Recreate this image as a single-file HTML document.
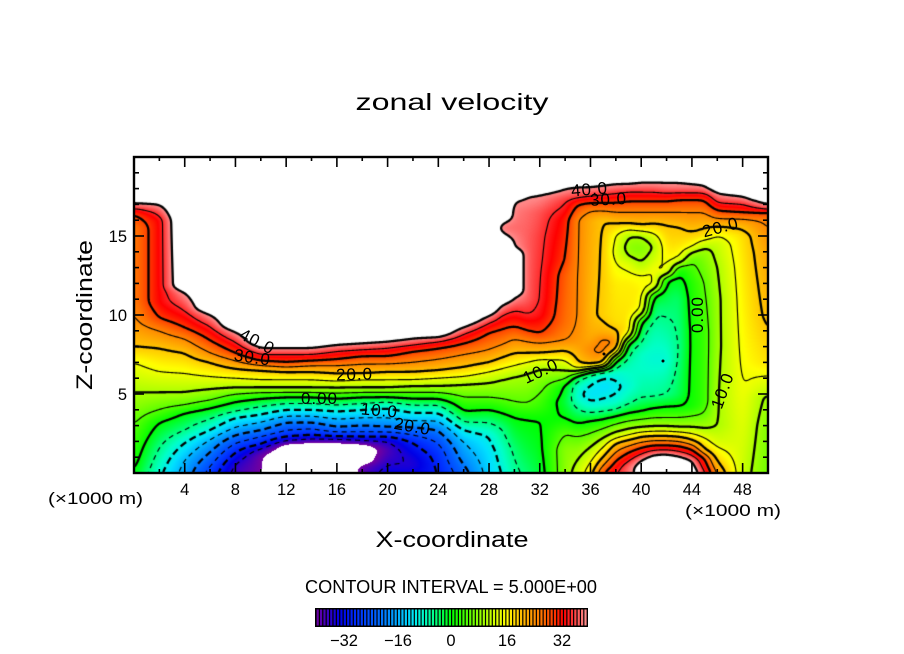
<!DOCTYPE html>
<html>
<head>
<meta charset="utf-8">
<style>
html,body{margin:0;padding:0;background:#fff;}
#wrap{position:relative;width:904px;height:654px;overflow:hidden;background:#fff;}
#c{position:absolute;left:134px;top:157px;}
#s{position:absolute;left:0;top:0;}
</style>
</head>
<body>
<div id="wrap">
<canvas id="c" width="634" height="316"></canvas>
<svg id="s" width="904" height="654" xmlns="http://www.w3.org/2000/svg" font-family="Liberation Sans, sans-serif" fill="#000">
  <g id="ticks" stroke="#000" stroke-width="1.6"></g>
  <rect x="134" y="157" width="634" height="316" fill="none" stroke="#000" stroke-width="2.4"/>
  <text x="452" y="110" font-size="23" text-anchor="middle" textLength="193" lengthAdjust="spacingAndGlyphs">zonal velocity</text>
  <g font-size="16.5" text-anchor="middle">
    <text x="184.7" y="495">4</text>
    <text x="235.4" y="495">8</text>
    <text x="286.2" y="495">12</text>
    <text x="336.9" y="495">16</text>
    <text x="387.6" y="495">20</text>
    <text x="438.3" y="495">24</text>
    <text x="489.0" y="495">28</text>
    <text x="539.8" y="495">32</text>
    <text x="590.5" y="495">36</text>
    <text x="641.2" y="495">40</text>
    <text x="691.9" y="495">44</text>
    <text x="742.6" y="495">48</text>
  </g>
  <g font-size="16.5" text-anchor="end">
    <text x="127" y="242">15</text>
    <text x="127" y="321">10</text>
    <text x="127" y="400">5</text>
  </g>
  <text x="48" y="504" font-size="16.5" textLength="95" lengthAdjust="spacingAndGlyphs">(×1000 m)</text>
  <text x="685" y="516" font-size="16.5" textLength="96" lengthAdjust="spacingAndGlyphs">(×1000 m)</text>
  <text x="452" y="547" font-size="22" text-anchor="middle" textLength="153" lengthAdjust="spacingAndGlyphs">X-coordinate</text>
  <text transform="translate(92,315) rotate(-90)" font-size="22" text-anchor="middle" textLength="150" lengthAdjust="spacingAndGlyphs">Z-coordinate</text>
  <text x="451" y="593" font-size="18" text-anchor="middle" textLength="292" lengthAdjust="spacingAndGlyphs">CONTOUR INTERVAL = 5.000E+00</text>
  <rect x="315" y="608" width="273" height="19" fill="#000"/>
  <g id="cbar"></g>
  <g font-size="16.5" text-anchor="middle">
    <text x="344" y="646">−32</text>
    <text x="398" y="646">−16</text>
    <text x="451" y="646">0</text>
    <text x="507" y="646">16</text>
    <text x="562" y="646">32</text>
  </g>
  <g font-size="17" text-anchor="middle">
    <text transform="translate(257,341) rotate(27)" dy="6" textLength="36">40.0</text>
    <text transform="translate(252,357) rotate(8)" dy="6" textLength="36">30.0</text>
    <text transform="translate(354,374) rotate(-2)" dy="6" textLength="36">20.0</text>
    <text transform="translate(319,398)" dy="6" textLength="36">0.00</text>
    <text transform="translate(379,410) rotate(5)" dy="6" textLength="36">10.0</text>
    <text transform="translate(412,426) rotate(10)" dy="6" textLength="36">20.0</text>
    <text transform="translate(589,189) rotate(-5)" dy="6" textLength="36">40.0</text>
    <text transform="translate(608,199) rotate(-3)" dy="6" textLength="36">30.0</text>
    <text transform="translate(720,227) rotate(-15)" dy="6" textLength="36">20.0</text>
    <text transform="translate(540,371) rotate(-25)" dy="6" textLength="36">10.0</text>
    <text transform="translate(697,315) rotate(-90)" dy="6" textLength="36">0.00</text>
    <text transform="translate(722,391) rotate(-70)" dy="6" textLength="36">10.0</text>
  </g>
  <circle cx="663" cy="361" r="1.5"/>
  <circle cx="604" cy="354" r="1.5"/>
</svg>
</div>
<script>
(function(){
var W=634,H=316;
var COLS=[
[0,[[0,0],[0.5,1],[3,5],[5.1,10],[7,15],[8,20],[9.5,24],[11,26],[15.5,26],[16.4,30],[16.8,36],[17.1,40],[17.2,42],[17.4,46],[20,50]]],
[2,[[0,-9],[1.6,-5],[3.2,0],[4,5],[5.1,10],[6.4,15],[7.9,20],[9,25],[9.8,30],[10.8,33],[16,33],[16.6,37],[17.0,40],[17.2,42],[17.4,46],[20,50]]],
[4,[[0,-17],[0.8,-15],[1.9,-10],[2.7,-5],[3.8,0],[4.3,5],[5.1,10],[6.3,15],[7.6,20],[8.5,25],[9.2,30],[10.3,35],[11.4,40],[11.6,42],[11.8,46],[20,50]]],
[6,[[0,-27],[0.4,-25],[1.3,-20],[2.1,-15],[2.7,-10],[3.4,-5],[4.1,0],[4.6,5],[5.3,10],[6.1,15],[7.0,20],[7.6,25],[8.4,30],[9.3,35],[10.0,40],[10.2,42],[10.4,46],[20,50]]],
[8,[[0,-37],[0.6,-35],[1.3,-30],[1.9,-25],[2.4,-20],[2.9,-15],[3.5,-10],[3.9,-5],[4.5,0],[5.0,5],[5.4,10],[6.0,15],[6.6,20],[7.1,25],[7.6,30],[8.3,35],[8.9,40],[9.1,42],[9.3,46],[20,50]]],
[10,[[0,-40],[1.0,-40],[1.4,-37],[1.8,-30],[2.3,-25],[2.7,-20],[3.2,-15],[3.7,-10],[4.2,-5],[4.7,0],[5.1,5],[5.4,10],[5.9,15],[6.5,20],[6.8,25],[7.1,30],[7.5,35],[7.9,40],[8.1,42],[8.3,46],[20,50]]],
[12,[[0,-50],[1.6,-44],[1.8,-41],[2.0,-36],[2.3,-30],[2.7,-25],[3.2,-20],[3.6,-15],[4.0,-10],[4.4,-5],[4.8,0],[5.1,5],[5.4,10],[5.9,15],[6.4,20],[6.7,25],[7.0,30],[7.5,35],[7.9,40],[8.1,42],[8.3,46],[20,50]]],
[14,[[0,-50],[1.7,-44],[1.9,-41],[2.1,-36],[2.4,-30],[2.8,-25],[3.2,-20],[3.6,-15],[4.0,-10],[4.4,-5],[4.8,0],[5.1,5],[5.4,10],[5.9,15],[6.4,20],[6.8,25],[7.1,30],[7.5,35],[7.9,40],[8.1,42],[8.3,46],[20,50]]],
[16,[[0,-50],[1.6,-44],[1.9,-41],[2.1,-36],[2.3,-30],[2.6,-25],[2.9,-20],[3.4,-15],[3.9,-10],[4.3,-5],[4.7,0],[5.05,5],[5.4,10],[5.8,15],[6.3,20],[6.8,25],[7.2,30],[7.7,35],[8.1,40],[8.3,42],[8.5,46],[20,50]]],
[18,[[0,-38],[0.5,-40],[0.7,-44],[1.5,-45],[1.8,-41],[2.0,-36],[2.3,-30],[2.6,-25],[3.0,-20],[3.5,-15],[4.0,-10],[4.4,-5],[4.8,0],[5.1,5],[5.4,10],[5.9,15],[6.3,20],[6.9,25],[7.4,30],[7.8,35],[8.2,40],[8.4,42],[8.6,46],[20,50]]],
[20,[[0,-33],[0.8,-36],[1.4,-38],[2.0,-35],[2.3,-30],[2.6,-25],[2.9,-20],[3.5,-15],[4.1,-10],[4.5,-5],[4.8,0],[5.1,5],[5.4,10],[5.9,15],[6.4,20],[6.9,25],[7.4,30],[7.9,35],[8.3,40],[8.5,42],[8.7,46],[20,50]]],
[22,[[0,-33],[0.5,-35],[1.0,-34],[1.9,-30],[2.4,-25],[2.9,-20],[3.3,-15],[3.8,-10],[4.3,-5],[4.7,0],[5.1,5],[5.5,10],[5.9,15],[6.4,20],[7.0,25],[7.7,30],[8.1,35],[8.5,40],[8.7,42],[8.9,46],[20,50]]],
[24,[[0,-30],[1.2,-28],[1.9,-25],[2.7,-20],[3.3,-15],[3.8,-10],[4.3,-5],[4.7,0],[5.1,5],[5.5,10],[6.0,15],[6.5,20],[7.2,25],[7.9,30],[8.3,35],[8.6,40],[8.7,42],[8.9,46],[20,50]]],
[26,[[0,-22],[1.0,-18],[1.9,-15],[2.7,-10],[3.2,-5],[3.9,0],[4.8,5],[5.6,10],[6.1,15],[6.7,20],[7.5,25],[8.2,30],[8.8,35],[9.2,40],[9.4,42],[9.6,46],[20,50]]],
[28,[[0,-13],[1.2,-12],[2.3,-10],[3.2,-5],[4.0,0],[4.8,5],[5.7,10],[6.4,15],[7.0,20],[7.8,25],[8.9,30],[9.5,35],[9.9,40],[10.1,42],[10.3,46],[20,50]]],
[29,[[0,-10],[1.5,-8],[2.8,-5],[3.8,0],[4.7,5],[5.9,10],[6.6,15],[7.3,20],[8.1,25],[9.1,30],[10.0,35],[10.6,40],[10.8,42],[11.0,46],[14.6,46],[14.9,42],[15.2,40],[15.5,38],[15.8,40],[16.0,42],[16.2,46],[20,50]]],
[30,[[0,-6],[1.5,-4],[3.5,0],[4.5,5],[6.1,10],[6.8,15],[7.6,20],[8.5,25],[9.3,30],[10.3,35],[11.1,40],[11.3,42],[11.5,46],[13.9,46],[14.1,42],[14.3,40],[15.5,38],[16.8,39],[17.2,40],[17.4,42],[17.6,46],[20,50]]],
[31,[[0,-4],[1.5,-2],[3.4,0],[4.4,5],[6.3,10],[7.0,15],[7.6,20],[8.3,25],[9.0,30],[10.0,35],[11,37.5],[15,37.5],[16.5,38],[17.3,39.5],[17.5,40],[17.7,42],[17.9,46],[20,50]]],
[32,[[0,-2],[1.5,-1],[3.3,0],[4.2,3],[5.0,5],[6.0,8],[6.6,10],[7.2,15],[7.6,20],[8.2,25],[8.8,30],[10,34],[11,35],[15,36],[16.5,37],[17.3,39],[17.6,40],[17.8,42],[18.0,46],[20,50]]],
[34,[[0,8],[1.5,8],[2.5,5],[3.5,0],[4.5,-2],[5.5,0],[6.2,8],[6.8,12],[7.5,18],[8.4,25],[9.5,27],[12.5,28],[13.5,30],[16,32],[17.3,36],[18.0,40],[18.2,42],[18.4,46],[20,50]]],
[35,[[0,12],[1.5,8],[2.5,4],[3.1,0],[4,-5],[4.8,-9],[5.5,-8],[6.0,-3],[6.3,5],[6.6,15],[7.0,20],[8.5,24],[10,25],[16,25],[17,30],[17.5,36],[18.1,40],[18.3,42],[18.5,46],[20,50]]],
[36,[[0,18],[0.8,14],[1.6,10],[2.5,5],[3.3,0],[3.8,-5],[4.3,-9],[5.0,-12],[5.8,-9],[6.2,-5],[6.5,5],[6.7,15],[7.0,22],[7.8,25],[8.5,22],[10,21],[16,22],[16.6,25],[17.1,30],[17.6,36],[18.1,40],[18.3,42],[18.5,46],[20,50]]],
[37,[[0,30],[1.0,20],[1.6,15],[2.2,10],[2.8,5],[3.4,0],[3.9,-5],[4.4,-9],[5.5,-12.5],[6.2,-9],[6.5,0],[6.8,15],[7.1,22],[7.6,26],[8.4,26],[8.9,22],[10,19],[16,20],[16.6,25],[17.1,30],[17.7,36],[18.2,40],[18.4,42],[18.6,46],[20,50]]],
[38,[[0,35],[0.8,30],[1.9,20],[2.2,15],[2.6,10],[3.1,5],[3.6,0],[4.0,-5],[4.6,-9],[5.4,-11],[6.3,-9],[6.9,-3],[7.3,5],[7.6,15],[7.9,22],[8.3,25],[8.7,22],[9.5,18],[12,17],[14,13.5],[15,15],[15.8,20],[16.5,25],[17.1,30],[17.8,36],[18.3,40],[18.5,42],[18.7,46],[20,50]]],
[39,[[0,38],[0.4,38],[1.3,30],[2.1,20],[2.4,15],[2.8,10],[3.3,5],[3.8,0],[4.5,-6],[5.5,-9],[7.0,-7],[7.8,-4],[8.2,0],[8.5,8],[8.8,15],[9.2,18],[12,17],[13.2,14],[13.7,10],[14.3,8],[15.0,10],[15.4,15],[15.8,20],[16.5,25],[17.2,30],[17.9,36],[18.3,40],[18.5,42],[18.7,46],[20,50]]],
[40,[[0,43],[0.5,42],[0.8,40],[1.6,30],[2.3,20],[2.6,15],[2.9,10],[3.4,5],[3.9,0],[5,-6],[6.5,-8],[7.5,-8],[8.8,-4],[9.5,0],[9.8,5],[10.1,12],[10.5,16],[11.5,17],[12.5,15],[13.2,10],[14.2,7],[15.0,10],[15.3,15],[15.7,20],[16.5,25],[17.2,30],[18.0,37],[18.4,40],[18.6,42],[18.8,46],[20,50]]],
[41,[[0,50],[0.9,43],[1.15,40],[1.75,30],[2.35,20],[2.65,15],[2.95,10],[3.5,5],[4.1,0],[5,-6],[7.2,-9],[9,-7],[10.5,-4],[11.2,0],[11.6,10],[12.0,16],[13,15],[13.7,12],[14.3,10],[14.8,12],[15.4,17],[15.8,20],[16.5,25],[17.2,30],[18.0,37],[18.4,40],[18.6,42],[18.8,46],[20,50]]],
[42,[[0,50],[0.95,43],[1.2,40],[1.75,30],[2.35,20],[2.65,15],[2.95,10],[3.5,5],[4.2,0],[5,-5],[7.2,-9],[9.9,-5],[11.5,-2],[12.2,0],[12.5,8],[12.8,15],[14.5,18],[15.7,20],[16.5,25],[17.2,30],[18.0,38],[18.4,40],[18.6,42],[18.8,46],[20,50]]],
[43,[[0,48],[0.8,43],[1.05,40],[1.7,30],[2.3,20],[2.6,15],[2.9,10],[3.5,5],[4.2,0],[5,-3],[8,-5],[11,-4],[12.8,0],[13.1,5],[13.4,12],[13.8,16],[14.5,18],[15.6,20],[16.5,25],[17.3,30],[18.0,38],[18.4,40],[18.6,42],[18.8,46],[20,50]]],
[44,[[0,44],[0.5,42],[0.8,40],[1.5,30],[2.1,20],[2.5,15],[2.9,10],[3.6,5],[4.2,1],[9,1],[12,2],[13.5,5],[14.0,10],[14.3,15],[15.0,19],[15.5,21],[16.5,25],[17.3,30],[17.9,37],[18.3,40],[18.5,42],[18.7,46],[20,50]]],
[45,[[0,36],[0.4,33],[0.9,30],[1.5,20],[2.2,15],[2.8,10],[3.8,5],[4.5,3],[9,3],[12,5],[14,8],[14.5,12],[15.0,18],[15.5,20],[16.5,25],[17.3,30],[17.8,36],[18.2,40],[18.4,42],[18.6,46],[20,50]]],
[46,[[0,24],[1,18],[2,13],[3.0,10],[5,10],[8,9],[11,9],[13,10],[14.5,12],[15.2,16],[15.6,20],[16.6,30],[17.2,36],[17.7,40],[17.9,42],[18.1,46],[20,50]]],
[48,[[0,12],[1.5,13],[3,14],[5,15],[8,16],[12,17],[15,18],[15.8,22],[16.5,30],[17.2,37],[17.5,40],[17.7,42],[17.9,46],[20,50]]],
[50,[[0,6],[3,7],[4.8,9],[5.3,12],[7,18],[10,21],[14,23],[16,26],[16.5,30],[16.8,38],[17.0,40],[17.2,42],[17.4,46],[20,50]]]
];
function evalCol(p,z){
  if(z<=p[0][0]) return p[0][1];
  for(var k=1;k<p.length;k++){
    if(z<=p[k][0]){var a=p[k-1],b=p[k];return a[1]+(b[1]-a[1])*(z-a[0])/(b[0]-a[0]);}
  }
  return p[p.length-1][1];
}
var stops=[[-40,112,0,160],[-36,48,0,200],[-33,0,0,230],[-28,0,48,255],[-22,0,100,255],[-16,0,170,255],[-12,0,225,255],[-8,0,255,200],[-4,0,255,110],[0,0,255,0],[4,70,255,0],[8,140,255,0],[12,200,255,0],[16,255,255,0],[19,255,210,0],[23,255,160,0],[27,255,110,0],[30,255,60,0],[33,255,0,0],[36,255,60,60],[39,255,130,130],[41,255,160,160]];
function cmap(v){
  if(v<=stops[0][0]) return [stops[0][1],stops[0][2],stops[0][3]];
  for(var k=1;k<stops.length;k++){
    if(v<=stops[k][0]){var a=stops[k-1],b=stops[k];var t=(v-a[0])/(b[0]-a[0]);
      return [a[1]+(b[1]-a[1])*t,a[2]+(b[2]-a[2])*t,a[3]+(b[3]-a[3])*t];}
  }
  var l=stops[stops.length-1];return [l[1],l[2],l[3]];
}
var prof=COLS.map(function(c){var p=new Float32Array(H);for(var j=0;j<H;j++){var z=20-(j+0.5)*20/H;p[j]=evalCol(c[1],z);}return p;});
var F=new Float32Array(W*H);
for(var i=0;i<W;i++){
  var x=(i+0.5)*50/W;var k=0;
  while(k<COLS.length-2&&COLS[k+1][0]<x)k++;
  var x0=COLS[k][0],x1=COLS[k+1][0];var t=(x-x0)/(x1-x0);if(t<0)t=0;if(t>1)t=1;
  var p0=prof[k],p1=prof[k+1];
  for(var j=0;j<H;j++)F[j*W+i]=p0[j]*(1-t)+p1[j]*t;
}
var T=new Float32Array(W*H);
function blurH(src,dst,r){for(var j=0;j<H;j++){for(var i=0;i<W;i++){var s=0,n=0;for(var d=-r;d<=r;d++){var ii=i+d;if(ii<0)ii=0;if(ii>=W)ii=W-1;s+=src[j*W+ii];n++;}dst[j*W+i]=s/n;}}}
function blurV(src,dst,r){for(var j=0;j<H;j++){for(var i=0;i<W;i++){var s=0,n=0;for(var d=-r;d<=r;d++){var jj=j+d;if(jj<0)jj=0;if(jj>=H)jj=H-1;s+=src[jj*W+i];n++;}dst[j*W+i]=s/n;}}}
blurH(F,T,4);blurH(T,F,4);blurV(F,T,2);blurV(T,F,2);
var cv=document.getElementById('c');var ctx=cv.getContext('2d');
var img=ctx.createImageData(W,H);var D=img.data;
for(var q=0;q<W*H;q++){
  var v=F[q];var r,g,b;
  if(v>40.3||v<-40.5){r=255;g=255;b=255;}else{var c=cmap(v);r=c[0];g=c[1];b=c[2];}
  D[q*4]=r;D[q*4+1]=g;D[q*4+2]=b;D[q*4+3]=255;
}
ctx.putImageData(img,0,0);
function contours(L){
  var segs=[];var P=new Map();
  for(var j=0;j<H-1;j++){
    for(var i=0;i<W-1;i++){
      var a=F[j*W+i],b=F[j*W+i+1],c=F[(j+1)*W+i+1],d=F[(j+1)*W+i];
      var A=a>=L,B=b>=L,C=c>=L,Dd=d>=L;
      if(A===B&&B===C&&C===Dd)continue;
      var kT=-1,kR=-1,kB=-1,kL=-1;
      if(A!==B){kT=(j*W+i)*2;if(!P.has(kT))P.set(kT,[i+(L-a)/(b-a)+0.5,j+0.5]);}
      if(B!==C){kR=(j*W+i+1)*2+1;if(!P.has(kR))P.set(kR,[i+1.5,j+(L-b)/(c-b)+0.5]);}
      if(Dd!==C){kB=((j+1)*W+i)*2;if(!P.has(kB))P.set(kB,[i+(L-d)/(c-d)+0.5,j+1.5]);}
      if(A!==Dd){kL=(j*W+i)*2+1;if(!P.has(kL))P.set(kL,[i+0.5,j+(L-a)/(d-a)+0.5]);}
      var list=[kT,kR,kB,kL].filter(function(e){return e>=0;});
      if(list.length===2)segs.push([list[0],list[1]]);
      else if(list.length===4){
        var m=(a+b+c+d)/4>=L;
        if(A){ if(m){segs.push([kT,kR]);segs.push([kL,kB]);}else{segs.push([kT,kL]);segs.push([kR,kB]);} }
        else { if(m){segs.push([kT,kL]);segs.push([kR,kB]);}else{segs.push([kT,kR]);segs.push([kL,kB]);} }
      }
    }
  }
  var adj=new Map();
  for(var n=0;n<segs.length;n++){for(var e=0;e<2;e++){var kk=segs[n][e];var l=adj.get(kk);if(l)l.push(n);else adj.set(kk,[n]);}}
  var used=new Uint8Array(segs.length);var lines=[];
  function walk(start,arr){var cur=start;for(;;){var l=adj.get(cur);var nx=-1;for(var u=0;u<l.length;u++){if(!used[l[u]]){nx=l[u];break;}}if(nx<0)break;used[nx]=1;var s=segs[nx];cur=(s[0]===cur)?s[1]:s[0];arr.push(cur);}}
  for(var n2=0;n2<segs.length;n2++){
    if(used[n2])continue;used[n2]=1;
    var fwd=[segs[n2][0],segs[n2][1]];
    walk(fwd[1],fwd);
    var back=[];walk(fwd[0],back);
    var chain=back.reverse().concat(fwd);
    lines.push(chain.map(function(kk){return P.get(kk);}));
  }
  return lines;
}
ctx.strokeStyle='#000';ctx.lineJoin='round';ctx.lineCap='butt';
for(var L=-35;L<=40;L+=5){
  var thick=(L%10===0);
  ctx.lineWidth=thick?2.3:1.15;
  ctx.setLineDash(L<0?(thick?[7,4]:[5,4]):[]);
  var ls=contours(L);
  for(var a1=0;a1<ls.length;a1++){
    var pl=ls[a1];if(pl.length<2)continue;
    ctx.beginPath();ctx.moveTo(pl[0][0],pl[0][1]);
    for(var b1=1;b1<pl.length;b1++)ctx.lineTo(pl[b1][0],pl[b1][1]);
    ctx.stroke();
  }
}
ctx.setLineDash([]);
var NS='http://www.w3.org/2000/svg';
var tg=document.getElementById('ticks');
function ln(x1,y1,x2,y2){var e=document.createElementNS(NS,'line');e.setAttribute('x1',x1);e.setAttribute('y1',y1);e.setAttribute('x2',x2);e.setAttribute('y2',y2);tg.appendChild(e);}
for(var kx=2;kx<=48;kx+=2){var px=134+12.68*kx;var len=(kx%4===0)?10:4;ln(px,157,px,157+len);ln(px,473,px,473-len);}
for(var kz=1;kz<=19;kz++){var py=473-15.8*kz;var len2=(kz%5===0)?10:5;ln(134,py,134+len2,py);ln(768,py,768-len2,py);}
var cb=document.getElementById('cbar');
for(var s=0;s<80;s++){
  var val=-40+s+0.5;var cc=cmap(val);
  var rct=document.createElementNS(NS,'rect');
  rct.setAttribute('x',(316.6+s*3.39).toFixed(2));rct.setAttribute('y','609.5');
  rct.setAttribute('width','2.2');rct.setAttribute('height','16');
  rct.setAttribute('fill','rgb('+Math.round(cc[0])+','+Math.round(cc[1])+','+Math.round(cc[2])+')');
  cb.appendChild(rct);
}
})();
</script>
</body>
</html>
